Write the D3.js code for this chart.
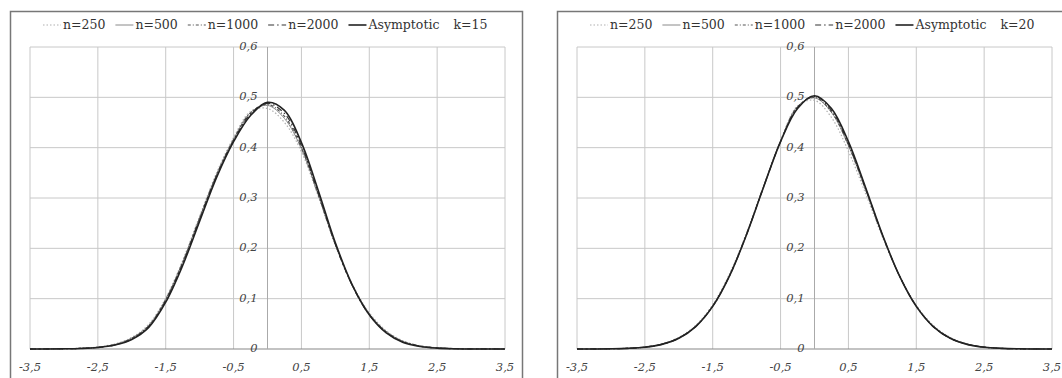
<!DOCTYPE html>
<html>
<head>
<meta charset="utf-8">
<script src="https://cdn.jsdelivr.net/npm/d3@7"></script>
<style>
  body { margin: 0; background: #fff; }
  svg { display: block; }
  svg text { font-family: "DejaVu Serif", "Liberation Serif", serif; }
</style>
</head>
<body>
<script>
// grille des abscisses commune aux deux panneaux
const xs = [-3.5, -3.25, -3, -2.75, -2.5, -2.25, -2, -1.75, -1.5, -1.25, -1, -0.75, -0.5, -0.25, 0,
  0.25, 0.5, 0.75, 1, 1.25, 1.5, 1.75, 2, 2.25, 2.5, 2.75, 3, 3.25, 3.5];

const xTicks = [-3.5, -2.5, -1.5, -0.5, 0.5, 1.5, 2.5, 3.5];
const yTicks = [0, 0.1, 0.2, 0.3, 0.4, 0.5, 0.6];
const seriesNames = ["n=250", "n=500", "n=1000", "n=2000", "Asymptotic"];

// k=15
const k15_n250 = [0, 0.0002, 0.0006, 0.0016, 0.004, 0.010, 0.023, 0.049, 0.101, 0.176, 0.264, 0.350, 0.420, 0.472, 0.478,
  0.450, 0.392, 0.303, 0.208, 0.129, 0.072, 0.036, 0.016, 0.0065, 0.0025, 0.0009, 0.0003, 0.0001, 0];
const k15_n500 = [0, 0.0001, 0.0005, 0.0014, 0.0036, 0.009, 0.022, 0.047, 0.099, 0.173, 0.261, 0.347, 0.417, 0.470, 0.484,
  0.458, 0.398, 0.305, 0.207, 0.127, 0.070, 0.035, 0.015, 0.006, 0.0023, 0.0008, 0.0003, 0.0001, 0];
const k15_n1000 = [0, 0.0001, 0.0005, 0.0013, 0.0034, 0.0085, 0.021, 0.046, 0.098, 0.172, 0.260, 0.346, 0.416, 0.469, 0.486,
  0.462, 0.400, 0.306, 0.207, 0.126, 0.069, 0.034, 0.015, 0.006, 0.0022, 0.0007, 0.0002, 0.0001, 0];
const k15_n2000 = [0, 0.0001, 0.0004, 0.0012, 0.0032, 0.008, 0.020, 0.045, 0.096, 0.170, 0.258, 0.344, 0.414, 0.467, 0.488,
  0.468, 0.404, 0.309, 0.208, 0.126, 0.068, 0.033, 0.014, 0.0055, 0.002, 0.0006, 0.0002, 0.0001, 0];
const k15_asym = [0, 0.0001, 0.0004, 0.0011, 0.003, 0.0078, 0.019, 0.043, 0.093, 0.166, 0.254, 0.341, 0.412, 0.464, 0.490,
  0.474, 0.410, 0.314, 0.211, 0.127, 0.068, 0.032, 0.013, 0.005, 0.0018, 0.0005, 0.0001, 0, 0];

// k=20
const k20_n250 = [0, 0.0002, 0.0006, 0.0016, 0.0042, 0.010, 0.023, 0.047, 0.088, 0.150, 0.231, 0.324, 0.414, 0.483, 0.494,
  0.460, 0.393, 0.310, 0.223, 0.146, 0.087, 0.047, 0.023, 0.010, 0.004, 0.0015, 0.0005, 0.0001, 0];
const k20_n500 = [0, 0.0001, 0.0005, 0.0015, 0.004, 0.0098, 0.0222, 0.0458, 0.086, 0.147, 0.229, 0.323, 0.413, 0.482, 0.499,
  0.470, 0.404, 0.317, 0.226, 0.146, 0.086, 0.045, 0.0218, 0.0095, 0.0038, 0.0014, 0.0004, 0.0001, 0];
const k20_n1000 = [0, 0.0001, 0.0005, 0.0014, 0.0038, 0.0095, 0.0218, 0.0452, 0.0855, 0.1465, 0.2285, 0.3225, 0.4125, 0.481, 0.500,
  0.471, 0.405, 0.318, 0.226, 0.146, 0.085, 0.045, 0.0215, 0.0094, 0.0037, 0.0013, 0.0004, 0.0001, 0];
const k20_n2000 = [0, 0.0001, 0.0004, 0.0013, 0.0037, 0.0093, 0.0214, 0.0448, 0.085, 0.146, 0.228, 0.322, 0.412, 0.480, 0.502,
  0.474, 0.408, 0.320, 0.227, 0.146, 0.085, 0.0447, 0.0213, 0.0093, 0.0036, 0.0013, 0.0004, 0.0001, 0];
const k20_asym = [0, 0.0001, 0.0004, 0.0013, 0.0036, 0.0092, 0.0212, 0.0445, 0.0846, 0.1458, 0.2276, 0.3217, 0.4119, 0.4778, 0.503,
  0.4778, 0.4119, 0.3217, 0.2276, 0.1458, 0.0846, 0.0445, 0.0212, 0.0092, 0.0036, 0.0013, 0.0004, 0.0001, 0];

const styles = {
  "n=250": { stroke: "#b0b0b0", width: 1.2, dash: "1.5,2" },
  "n=500": { stroke: "#8a8a8a", width: 1, dash: null },
  "n=1000": { stroke: "#555", width: 1.2, dash: "3,2,1,2" },
  "n=2000": { stroke: "#333", width: 1.2, dash: "6,3,1.5,3" },
  "Asymptotic": { stroke: "#222", width: 1.6, dash: null }
};

const W = 1062, H = 378;
const svg = d3.select("body").append("svg").attr("width", W).attr("height", H);

function drawPanel(boxX, boxW, plotX, data, kLabel) {
  const g = svg.append("g");

  // cadre
  g.append("rect")
    .attr("x", boxX + 0.5).attr("y", 11.5)
    .attr("width", boxW).attr("height", 380)
    .attr("fill", "#fff")
    .attr("stroke", "#777")
    .attr("stroke-width", 1.5);

  const x = d3.scaleLinear().domain([-3.5, 3.5]).range([plotX, plotX + 475]);
  const y = d3.scaleLinear().domain([0, 0.6]).range([349, 47]);

  // grille
  g.selectAll(".vg").data(xTicks).join("line")
    .attr("x1", d => x(d)).attr("x2", d => x(d))
    .attr("y1", y(0.6)).attr("y2", y(0))
    .attr("stroke", "#c8c8c8").attr("stroke-width", 1);
  g.selectAll(".hg").data(yTicks.slice(1)).join("line")
    .attr("x1", x(-3.5)).attr("x2", x(3.5))
    .attr("y1", d => y(d)).attr("y2", d => y(d))
    .attr("stroke", "#c8c8c8").attr("stroke-width", 1);

  // axes
  g.append("line")
    .attr("x1", x(-3.5)).attr("x2", x(3.5))
    .attr("y1", y(0)).attr("y2", y(0))
    .attr("stroke", "#888").attr("stroke-width", 1.2);
  g.append("line")
    .attr("x1", x(0)).attr("x2", x(0))
    .attr("y1", y(0.6)).attr("y2", y(0))
    .attr("stroke", "#aaa").attr("stroke-width", 1);

  // étiquettes
  g.selectAll(".yl").data(yTicks).join("text")
    .attr("x", x(0) - 10).attr("y", d => y(d))
    .attr("text-anchor", "end")
    .attr("dominant-baseline", "middle")
    .attr("font-style", "italic")
    .attr("font-size", "11.5px").attr("fill", "#444")
    .text(d => d3.format(".1f")(d).replace(".", ",").replace(/^0,0$/, "0"));

  g.selectAll(".xl").data(xTicks).join("text")
    .attr("x", d => x(d)).attr("y", 368)
    .attr("text-anchor", "middle")
    .attr("dominant-baseline", "middle")
    .attr("font-style", "italic")
    .attr("font-size", "11.5px").attr("fill", "#444")
    .text(d => d3.format(".1f")(d).replace(".", ",").replace("−", "-"));

  // courbes
  const line = d3.line()
    .x((d, i) => x(xs[i]))
    .y(d => y(d))
    .curve(d3.curveCatmullRom);

  seriesNames.forEach(name => {
    const s = styles[name];
    g.append("path")
      .datum(data[name])
      .attr("d", line)
      .attr("fill", "none")
      .attr("stroke", s.stroke)
      .attr("stroke-width", s.width)
      .attr("stroke-dasharray", s.dash);
  });

  // légende
  let lx = boxX + 33;
  const ly = 25;
  seriesNames.forEach(name => {
    const s = styles[name];
    g.append("line")
      .attr("x1", lx).attr("x2", lx + 18)
      .attr("y1", ly).attr("y2", ly)
      .attr("stroke", s.stroke).attr("stroke-width", s.width)
      .attr("stroke-dasharray", s.dash);
    const t = g.append("text")
      .attr("x", lx + 20).attr("y", ly)
      .attr("dominant-baseline", "middle")
      .attr("font-size", "12.5px").attr("fill", "#333")
      .text(name);
    lx += 20 + t.node().getComputedTextLength() + 10;
  });
  g.append("text")
    .attr("x", lx + 4).attr("y", ly)
    .attr("dominant-baseline", "middle")
    .attr("font-size", "12.5px").attr("fill", "#333")
    .text(kLabel);
}

drawPanel(10, 512, 30, {
  "n=250": k15_n250, "n=500": k15_n500, "n=1000": k15_n1000, "n=2000": k15_n2000, "Asymptotic": k15_asym
}, "k=15");

drawPanel(557, 520, 577, {
  "n=250": k20_n250, "n=500": k20_n500, "n=1000": k20_n1000, "n=2000": k20_n2000, "Asymptotic": k20_asym
}, "k=20");
</script>
</body>
</html>
